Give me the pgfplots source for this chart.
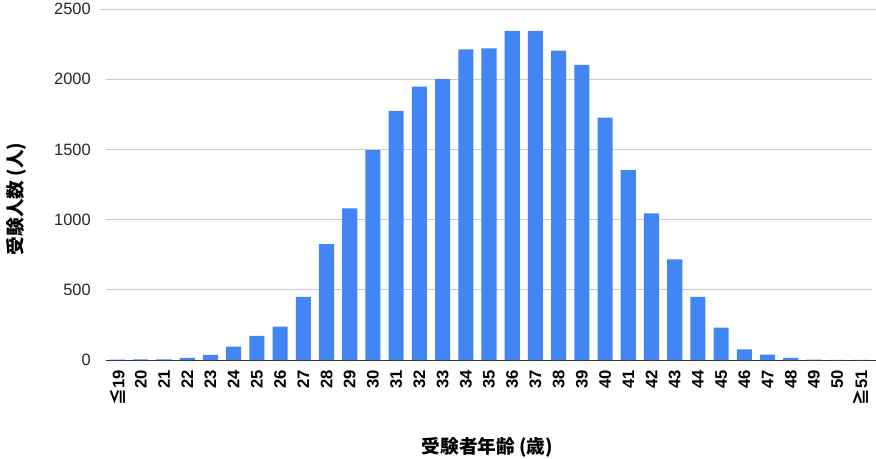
\documentclass[border=0pt]{standalone}
\usepackage{fontspec}
\setmainfont{Liberation Sans}
\newfontfamily\jp{Noto Sans CJK JP}
\usepackage{pgfplots}
\pgfplotsset{compat=1.18}
\definecolor{barblue}{HTML}{4285F4}
\begin{document}
\begin{tikzpicture}
\begin{axis}[
  scale only axis, width=574.5pt, height=263.25pt,
  xmin=-0.5, xmax=32.5, ymin=0, ymax=2500,
  ytick={0,500,...,2500},
  xtick={0,...,32},
  xticklabels={{\jp\bfseries ≦}19,20,21,22,23,24,25,26,27,28,29,30,31,32,33,34,35,36,37,38,39,40,41,42,43,44,45,46,47,48,49,50,{\jp\bfseries ≧}51},
  axis x line*=bottom, axis y line*=left,
  y axis line style={draw=none},
  x axis line style={-, draw=black!80, line width=0.75pt, shorten >=-3pt},
  major tick length=0pt,
  ymajorgrids,
  major grid style={draw=black!20, line width=0.75pt, shorten <=-4.5pt, shorten >=-3pt},
  /pgf/number format/1000 sep={},
  /pgf/number format/assume math mode=true,
  yticklabel style={font=\fontsize{12.3}{14}\selectfont, color=black!85, inner sep=0pt},
  yticklabel shift=11.25pt,
  xticklabel style={rotate=90, anchor=east, inner sep=0pt, font=\bfseries\fontsize{12.5}{14}\selectfont},
  xticklabel shift=7.5pt,
  xlabel={\jp\bfseries 受験者年齢 (歳)},
  xlabel style={at={(axis description cs:0.498,-0.2479)}, anchor=center, font=\fontsize{14}{16}\selectfont},
  ylabel={\jp\bfseries 受験人数 (人)},
  ylabel style={at={(axis description cs:-0.1175,0.4587)}, anchor=center, rotate=0, font=\fontsize{14}{16}\selectfont},
  ybar, bar width=0.65,
]
\addplot[fill=barblue, draw=none] coordinates {
(0,3) (1,4) (2,5) (3,15) (4,37) (5,95) (6,172) (7,238) (8,450) (9,825)
(10,1080) (11,1495) (12,1775) (13,1947) (14,2002) (15,2212) (16,2220) (17,2345)
(18,2345) (19,2203) (20,2102) (21,1727) (22,1352) (23,1045) (24,717) (25,450)
(26,230) (27,75) (28,38) (29,15) (30,2) (31,1) (32,1)
};
\coordinate (ll) at (rel axis cs:0,0);
\coordinate (ur) at (rel axis cs:1,1);
\end{axis}
\pgfresetboundingbox
\path ([xshift=-79.5pt, yshift=-73.5pt]ll) rectangle ([xshift=3pt, yshift=6.75pt]ur);
\end{tikzpicture}
\end{document}
